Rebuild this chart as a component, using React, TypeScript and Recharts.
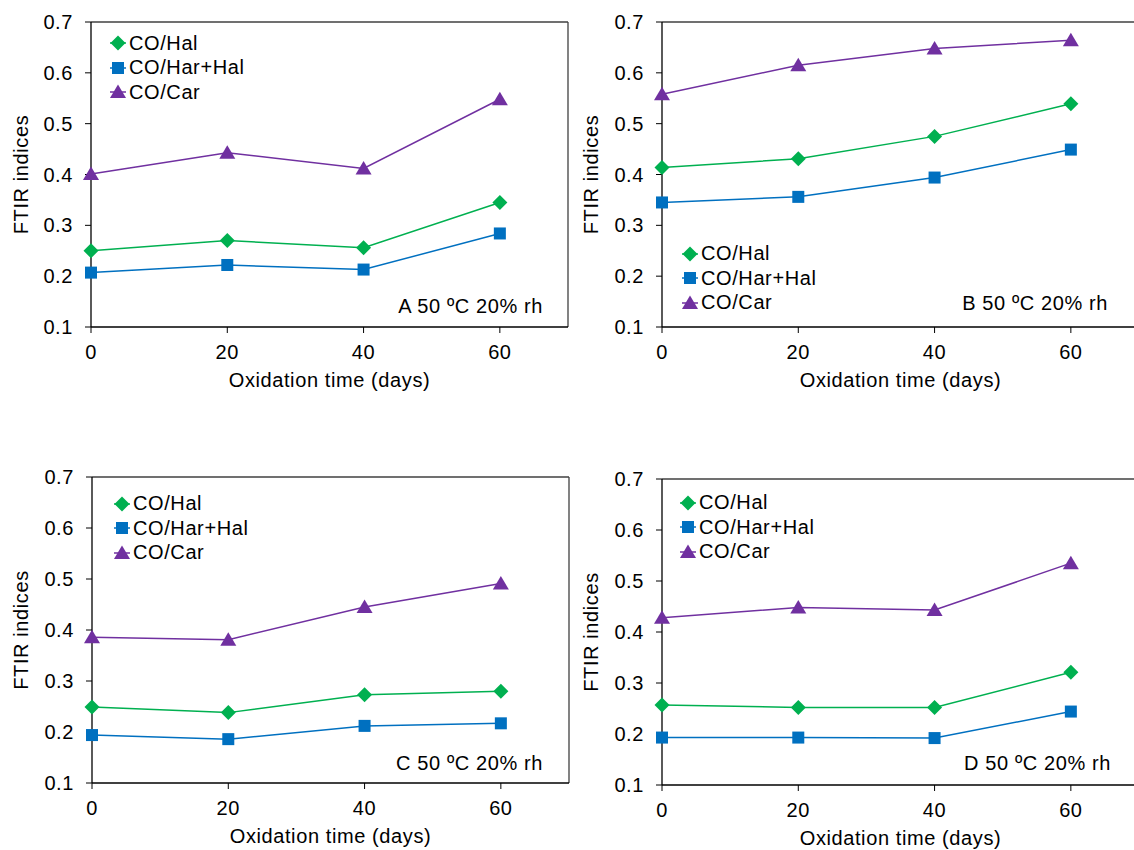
import React from 'react';
import { LineChart, Line, XAxis, YAxis, ReferenceLine, Legend } from 'recharts';

const days = [0, 20, 40, 60];
const seriesNames = ['CO/Hal', 'CO/Har+Hal', 'CO/Car'];
const yTicks = [0.1, 0.2, 0.3, 0.4, 0.5, 0.6, 0.7];
const xTicks = [0, 20, 40, 60];

// panel A
const halA = [0.25, 0.27, 0.256, 0.345];
const harA = [0.207, 0.222, 0.213, 0.284];
const carA = [0.401, 0.443, 0.412, 0.548];
// panel B
const halB = [0.414, 0.431, 0.475, 0.539];
const harB = [0.345, 0.356, 0.394, 0.449];
const carB = [0.558, 0.615, 0.648, 0.664];
// panel C
const halC = [0.249, 0.238, 0.273, 0.28];
const harC = [0.194, 0.186, 0.212, 0.217];
const carC = [0.386, 0.381, 0.445, 0.491];
// panel D
const halD = [0.257, 0.252, 0.252, 0.321];
const harD = [0.193, 0.193, 0.192, 0.244];
const carD = [0.428, 0.448, 0.443, 0.535];

const GREEN = '#00B050';
const BLUE = '#0070C0';
const PURPLE = '#7030A0';
const FONT = '"Liberation Sans", Arial, sans-serif';

const build = (hal: number[], har: number[], car: number[]) =>
  days.map((d, i) => ({ day: d, hal: hal[i], har: har[i], car: car[i] }));

const Marker = ({ kind, cx, cy, color }: { kind: string; cx: number; cy: number; color: string }) => {
  if (kind === 'hal') {
    return <polygon points={`${cx},${cy - 7.5} ${cx + 7.5},${cy} ${cx},${cy + 7.5} ${cx - 7.5},${cy}`} fill={color} />;
  }
  if (kind === 'har') {
    return <rect x={cx - 6} y={cy - 6} width={12} height={12} fill={color} />;
  }
  return <polygon points={`${cx},${cy - 7.5} ${cx + 8},${cy + 6} ${cx - 8},${cy + 6}`} fill={color} />;
};

const dotFor = (kind: string, color: string) => (p: any) => (
  <Marker key={`${kind}-${p.index}`} kind={kind} cx={p.cx} cy={p.cy} color={color} />
);

const LegendBox = (props: any) => {
  const items = [...(props.payload || [])].sort(
    (a: any, b: any) => seriesNames.indexOf(a.value) - seriesNames.indexOf(b.value)
  );
  return (
    <div style={{ fontFamily: FONT, fontSize: 20, letterSpacing: '0.6px', color: '#000' }}>
      {items.map((e: any) => (
        <div key={e.value} style={{ display: 'flex', alignItems: 'center', height: 24.4, whiteSpace: 'nowrap' }}>
          <svg width={19} height={18} style={{ marginRight: 1 }}>
            <line x1={1} y1={9} x2={17} y2={9} stroke={e.color} strokeWidth={1.5} />
            <Marker kind={e.dataKey} cx={9} cy={9} color={e.color} />
          </svg>
          <span>{e.value}</span>
        </div>
      ))}
    </div>
  );
};

interface PanelProps {
  left: number;
  top: number;
  yAxisW: number;
  marginTop: number;
  plotH: number;
  data: Array<{ day: number; hal: number; har: number; car: number }>;
  tag: string;
  tagRight: number;
  tagY: number;
  legendX: number;
  legendY: number;
}

const Panel = ({ left, top, yAxisW, marginTop, plotH, data, tag, tagRight, tagY, legendX, legendY }: PanelProps) => {
  const height = 400;
  const plotW = 477;
  const width = 570;
  const xAxisH = height - marginTop - plotH;
  return (
    <div style={{ position: 'absolute', left, top, width, height }}>
      <LineChart
        width={width}
        height={height}
        data={data}
        margin={{ top: marginTop, right: width - yAxisW - plotW, left: 0, bottom: 0 }}
      >
        <XAxis
          dataKey="day"
          type="number"
          domain={[0, 70]}
          ticks={xTicks}
          height={xAxisH}
          tickSize={6}
          tickMargin={12}
          axisLine={{ stroke: '#000', strokeWidth: 1.3 }}
          tickLine={{ stroke: '#000' }}
          tick={{ fill: '#000', fontSize: 20, fontFamily: FONT, letterSpacing: '0.6px' }}
          label={() => (
            <text
              x={yAxisW + plotW / 2}
              y={marginTop + plotH + 53}
              textAnchor="middle"
              dominantBaseline="central"
              fill="#000"
              fontSize={20}
              fontFamily={FONT}
              letterSpacing="0.6px"
            >
              Oxidation time (days)
            </text>
          )}
        />
        <YAxis
          type="number"
          domain={[0.1, 0.7]}
          ticks={yTicks}
          width={yAxisW}
          tickSize={6}
          tickMargin={12}
          tickFormatter={(v: number) => v.toFixed(1)}
          axisLine={{ stroke: '#000', strokeWidth: 1.3 }}
          tickLine={{ stroke: '#000' }}
          tick={{ fill: '#000', fontSize: 20, fontFamily: FONT, letterSpacing: '0.6px' }}
          label={() => (
            <text
              x={21}
              y={marginTop + plotH / 2}
              transform={`rotate(-90, 21, ${marginTop + plotH / 2})`}
              textAnchor="middle"
              dominantBaseline="central"
              fill="#000"
              fontSize={20}
              fontFamily={FONT}
              letterSpacing="0.6px"
            >
              FTIR indices
            </text>
          )}
        />
        <ReferenceLine y={0.7} stroke="#404040" strokeWidth={1.3} />
        <ReferenceLine x={70} stroke="#404040" strokeWidth={1.3} />
        <Legend
          layout="vertical"
          align="center"
          verticalAlign="middle"
          content={<LegendBox />}
          wrapperStyle={{ left: legendX - 9, top: legendY - 12.2, width: 'auto' }}
        />
        <Line
          name={seriesNames[0]}
          dataKey="hal"
          type="linear"
          stroke={GREEN}
          strokeWidth={1.5}
          dot={dotFor('hal', GREEN)}
          activeDot={false}
          isAnimationActive={false}
        />
        <Line
          name={seriesNames[1]}
          dataKey="har"
          type="linear"
          stroke={BLUE}
          strokeWidth={1.5}
          dot={dotFor('har', BLUE)}
          activeDot={false}
          isAnimationActive={false}
        />
        <Line
          name={seriesNames[2]}
          dataKey="car"
          type="linear"
          stroke={PURPLE}
          strokeWidth={1.5}
          dot={dotFor('car', PURPLE)}
          activeDot={false}
          isAnimationActive={false}
        />
      </LineChart>
      <div
        style={{
          position: 'absolute',
          left: 0,
          width: tagRight,
          top: tagY - 12,
          lineHeight: '24px',
          textAlign: 'right',
          fontFamily: FONT,
          fontSize: 20,
          letterSpacing: '0.6px',
          color: '#000',
          whiteSpace: 'nowrap',
        }}
      >
        {tag}
      </div>
    </div>
  );
};

export default function App() {
  return (
    <div
      style={{
        position: 'absolute',
        left: 0,
        top: 0,
        width: 1134,
        height: 850,
        overflow: 'hidden',
        background: '#fff',
      }}
    >
      <Panel
        left={0}
        top={0}
        yAxisW={91}
        marginTop={22}
        plotH={305}
        data={build(halA, harA, carA)}
        tag="A 50 ºC 20% rh"
        tagRight={543}
        tagY={306}
        legendX={118}
        legendY={43.5}
      />
      <Panel
        left={570}
        top={0}
        yAxisW={92}
        marginTop={22}
        plotH={305}
        data={build(halB, harB, carB)}
        tag="B 50 ºC 20% rh"
        tagRight={538}
        tagY={303}
        legendX={120}
        legendY={254}
      />
      <Panel
        left={0}
        top={456}
        yAxisW={92}
        marginTop={21}
        plotH={306}
        data={build(halC, harC, carC)}
        tag="C 50 ºC 20% rh"
        tagRight={543}
        tagY={307}
        legendX={122}
        legendY={48}
      />
      <Panel
        left={570}
        top={456}
        yAxisW={92}
        marginTop={23}
        plotH={306}
        data={build(halD, harD, carD)}
        tag="D 50 ºC 20% rh"
        tagRight={541}
        tagY={307}
        legendX={118}
        legendY={47}
      />
    </div>
  );
}
